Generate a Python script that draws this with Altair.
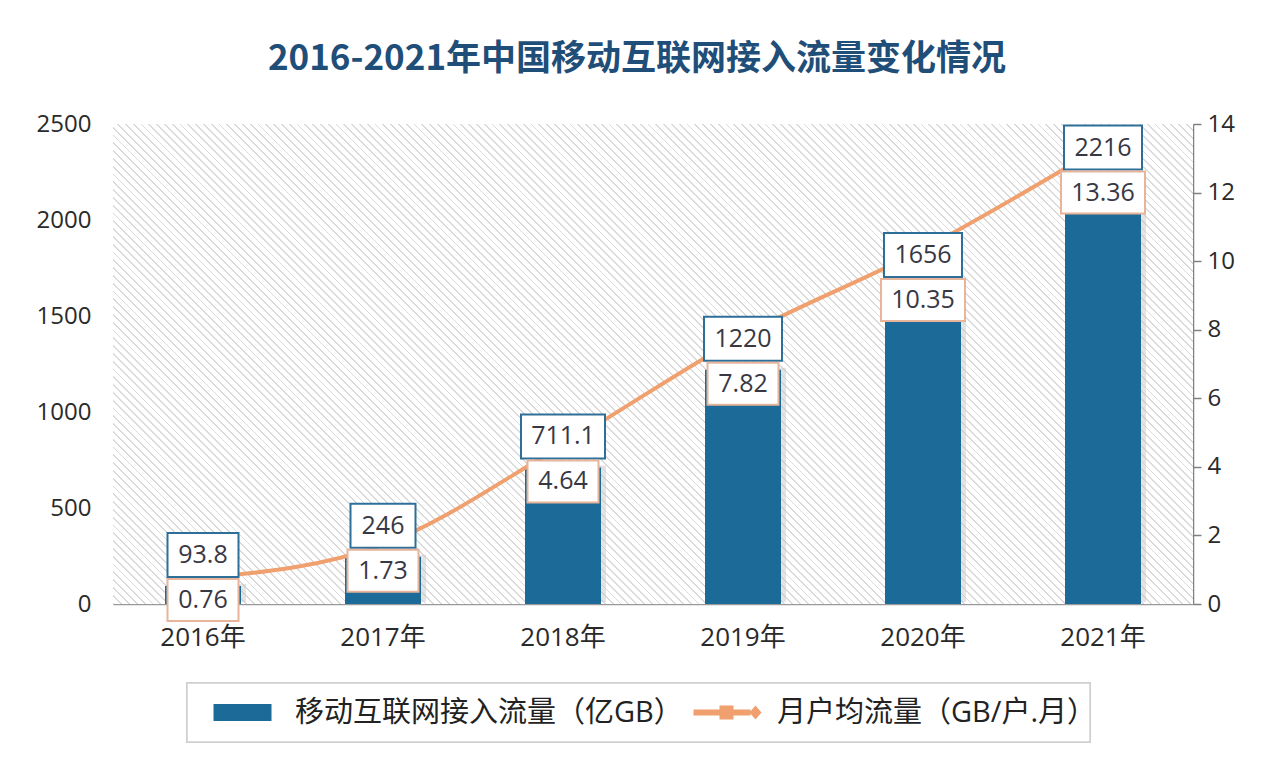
import altair as alt
import pandas as pd

years = ["2016年", "2017年", "2018年", "2019年", "2020年", "2021年"]
traffic = [93.8, 246, 711.1, 1220, 1656, 2216]
per_user = [0.76, 1.73, 4.64, 7.82, 10.35, 13.36]
traffic_labels = ["93.8", "246", "711.1", "1220", "1656", "2216"]
per_user_labels = ["0.76", "1.73", "4.64", "7.82", "10.35", "13.36"]

TITLE = "2016-2021年中国移动互联网接入流量变化情况"
S1 = "移动互联网接入流量（亿GB）"
S2 = "月户均流量（GB/户.月）"

BAR = "#1B6A98"
ORANGE = "#F0A06E"
BLUE_BOX = "#2E6F9A"
ORANGE_BOX = "#E8B49A"
TXT = "#383844"
FONT = "Open Sans, Noto Sans CJK SC"

W, H = 1080, 480


def box_path(label, h):
    w = 13 * sum(c.isdigit() for c in label) + 6 * label.count(".") + 26
    return f"M{-w/2},{-h/2}H{w/2}V{h/2}H{-w/2}Z"


df = pd.DataFrame({
    "year": years,
    "traffic": traffic,
    "per_user": per_user,
    "tl": traffic_labels,
    "pl": per_user_labels,
    "s1": S1,
    "s2": S2,
})
df["bshape"] = [box_path(t, 44) for t in traffic_labels]
df["oshape"] = [box_path(t, 42) for t in per_user_labels]

# diagonal hatch background via striped linear gradient
n = 200
stops = []
for i in range(n):
    a = i / n
    b = (i + 1) / n
    m = a + 0.25 / n
    stops += [
        {"offset": a, "color": "#dadada"},
        {"offset": m, "color": "#dadada"},
        {"offset": m, "color": "#ffffff"},
        {"offset": b, "color": "#ffffff"},
    ]
hatch_fill = {"gradient": "linear", "x1": 0, "y1": 1, "x2": 1.20619, "y2": 0.46392, "stops": stops}

x_enc = alt.X("year:N", sort=years, title=None,
              scale=alt.Scale(paddingInner=0, paddingOuter=0),
              axis=alt.Axis(labelAngle=0, labelFontSize=26, labelFont=FONT, labelColor="#2a2a2a",
                            labelPadding=20, ticks=False, domain=True, domainColor="#9a9a9a",
                            domainWidth=1.5, grid=False))
yl_scale = alt.Scale(domain=[0, 2500])
yr_scale = alt.Scale(domain=[0, 14])

base = alt.Chart(df)

hatch = base.mark_rect(fill=hatch_fill).encode(
    x=alt.value(0), x2=alt.value(W), y=alt.value(0), y2=alt.value(H)
)

legend_box = base.mark_rect(fill="white", stroke="#cfcfcf", strokeWidth=1.5).encode(
    x=alt.value(74), x2=alt.value(977), y=alt.value(559), y2=alt.value(618)
)

shadow = base.mark_bar(size=76, color="#c4c4c4", opacity=0.45, xOffset=5, yOffset=-2).encode(
    x=x_enc,
    y=alt.Y("traffic:Q", scale=yl_scale, axis=None),
)

bars = base.mark_bar(size=76).encode(
    x=x_enc,
    y=alt.Y("traffic:Q", scale=yl_scale, title=None,
            axis=alt.Axis(orient="left", values=[0, 500, 1000, 1500, 2000, 2500], format="d",
                          labelFontSize=24, labelFont=FONT, labelColor="#2a2a2a", domain=False,
                          ticks=False, grid=False, labelPadding=22)),
    color=alt.Color("s1:N", scale=alt.Scale(domain=[S1], range=[BAR]),
                    legend=alt.Legend(orient="none", legendX=115, legendY=574, title=None,
                                      symbolType="M-29,-8.5H29V8.5H-29Z", symbolSize=4,
                                      symbolStrokeWidth=0, labelFontSize=29, labelFont=FONT,
                                      labelColor="#222222", labelOffset=38, padding=0,
                                      labelLimit=600)),
)

line = base.mark_line(strokeWidth=4, interpolate="monotone").encode(
    x=x_enc,
    y=alt.Y("per_user:Q", scale=yr_scale, title=None,
            axis=alt.Axis(orient="right", values=list(range(0, 15, 2)), labelFontSize=24,
                          labelFont=FONT, labelColor="#2a2a2a", domain=True, domainColor="#808080",
                          domainWidth=1.5, ticks=True, tickColor="#808080", tickSize=8,
                          tickWidth=1.5, grid=False, labelPadding=6)),
    stroke=alt.Stroke("s2:N", scale=alt.Scale(domain=[S2], range=[ORANGE]),
                      legend=alt.Legend(orient="none", legendX=598, legendY=574, title=None,
                                        symbolType="M-32,-3H25V3H-32Z M-6,-7H8V7H-6Z M24,0L30,-7L36,0L30,7Z",
                                        symbolSize=4, symbolFillColor=ORANGE, symbolStrokeWidth=0,
                                        labelFontSize=29, labelFont=FONT, labelColor="#222222",
                                        labelOffset=37, padding=0, labelLimit=600)),
)

blue_boxes = base.mark_point(filled=True, fill="white", stroke=BLUE_BOX, strokeWidth=2,
                             opacity=1, size=4, yOffset=-31).encode(
    x=x_enc,
    y=alt.Y("traffic:Q", scale=yl_scale, axis=None),
    shape=alt.Shape("bshape:N", scale=None),
)
blue_text = base.mark_text(fontSize=25, font=FONT, color=TXT, yOffset=-31, baseline="middle").encode(
    x=x_enc,
    y=alt.Y("traffic:Q", scale=yl_scale, axis=None),
    text="tl:N",
)

orange_boxes = base.mark_point(filled=True, fill="white", stroke=ORANGE_BOX, strokeWidth=2,
                               opacity=1, size=4, yOffset=14).encode(
    x=x_enc,
    y=alt.Y("traffic:Q", scale=yl_scale, axis=None),
    shape=alt.Shape("oshape:N", scale=None),
)
orange_text = base.mark_text(fontSize=25, font=FONT, color=TXT, yOffset=14, baseline="middle").encode(
    x=x_enc,
    y=alt.Y("traffic:Q", scale=yl_scale, axis=None),
    text="pl:N",
)

chart = alt.layer(
    hatch, legend_box, shadow, bars, line, blue_boxes, blue_text, orange_boxes, orange_text
).resolve_scale(y="independent").properties(
    width=W,
    height=H,
    autosize=alt.AutoSizeParams(type="none"),
    padding={"left": 113, "top": 124, "right": 87, "bottom": 164},
    title=alt.Title(TITLE, fontSize=35, font="Noto Sans CJK SC", fontWeight="bold",
                    color="#1F4E79", anchor="middle", dx=-16, offset=35),
).configure_view(stroke=None).configure(background="white")

chart.save("out.html", embed_options={"renderer": "svg", "actions": False})
